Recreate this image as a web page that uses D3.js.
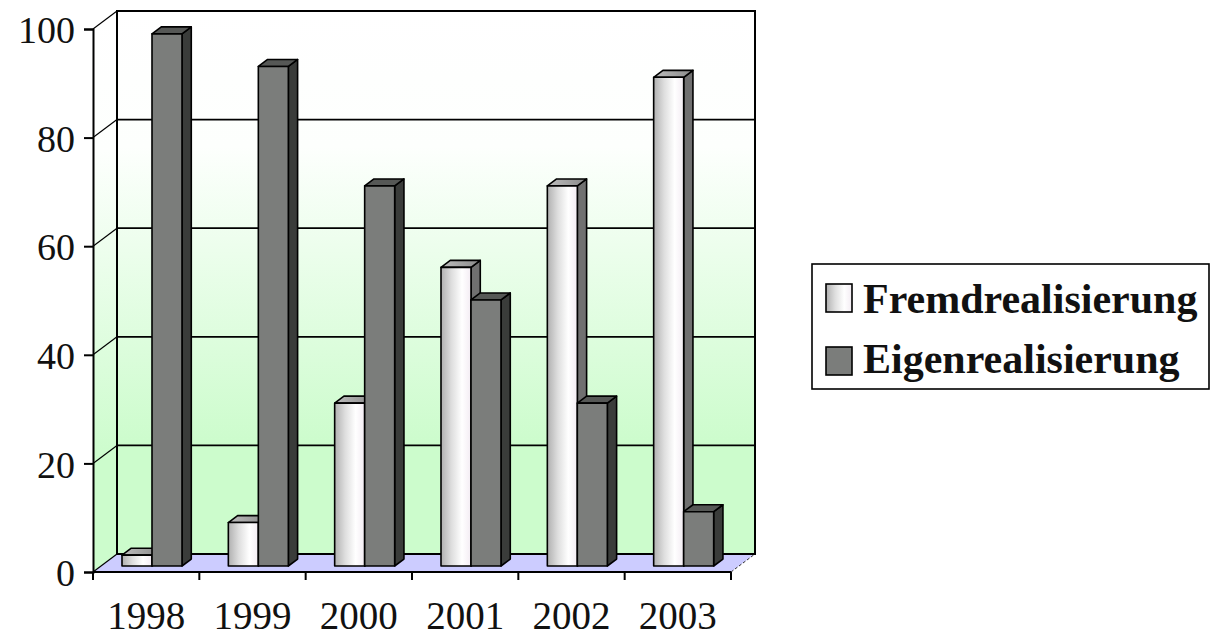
<!DOCTYPE html>
<html>
<head>
<meta charset="utf-8">
<script src="https://cdn.jsdelivr.net/npm/d3@7/dist/d3.min.js"></script>
<style>
  html, body { margin: 0; padding: 0; background: #fff; }
  svg { display: block; }
  text { font-family: "Liberation Serif", "Times New Roman", serif; fill: #111; }
</style>
</head>
<body>
<svg id="chart" width="1214" height="637"></svg>
<script>
// Anteil Fremd- vs. Eigenrealisierung (in %)
const years = ["1998", "1999", "2000", "2001", "2002", "2003"];
const seriesNames = ["Fremdrealisierung", "Eigenrealisierung"];
const fremd = [2, 8, 30, 55, 70, 90];
const eigen = [98, 92, 70, 49, 30, 10];
const yTicks = [0, 20, 40, 60, 80, 100];

const svg = d3.select("#chart");
const defs = svg.append("defs");

// walls: white top fading to pale green towards the floor
const wallGrad = defs.append("linearGradient").attr("id", "wallGrad")
  .attr("x1", 0).attr("y1", 0).attr("x2", 0).attr("y2", 1);
[[0, "#ffffff"], [0.25, "#fdfffd"], [0.8, "#ccfccc"], [1, "#ccfccc"]]
  .forEach(([o, c]) => wallGrad.append("stop").attr("offset", o).attr("stop-color", c));

// light bar front: metallic sheen from left to right
const lightGrad = defs.append("linearGradient").attr("id", "lightGrad")
  .attr("x1", 0).attr("y1", 0).attr("x2", 1).attr("y2", 0);
[[0, "#b0b0b0"], [0.35, "#dedede"], [0.7, "#ffffff"], [1, "#f3ecf3"]]
  .forEach(([o, c]) => lightGrad.append("stop").attr("offset", o).attr("stop-color", c));

const lightTopGrad = defs.append("linearGradient").attr("id", "lightTopGrad")
  .attr("x1", 0).attr("y1", 0).attr("x2", 1).attr("y2", 0);
[[0, "#bdbdbd"], [1, "#8a8a8a"]]
  .forEach(([o, c]) => lightTopGrad.append("stop").attr("offset", o).attr("stop-color", c));

// scales on the front plane of the floor
const x = d3.scaleBand().domain(years).range([93, 731]).padding(0);
const y = d3.scaleLinear().domain([0, 100]).range([572, 29]);
const inner = d3.scaleBand().domain(seriesNames).range([21, 81]).padding(0);

// oblique depth projection
const DX = 24, DY = -18;
const px = d => DX * d, py = d => DY * d;

const x0 = x.range()[0], x1 = x.range()[1];
const yBot = y(0), yTop = y(100);

// back wall
svg.append("rect")
  .attr("x", x0 + px(1)).attr("y", yTop + py(1))
  .attr("width", x1 - x0).attr("height", yBot - yTop)
  .attr("fill", "url(#wallGrad)");

// left wall
svg.append("polygon")
  .attr("points", [[x0, yTop], [x0 + px(1), yTop + py(1)], [x0 + px(1), yBot + py(1)], [x0, yBot]].join(" "))
  .attr("fill", "url(#wallGrad)");

// floor
svg.append("polygon")
  .attr("points", [[x0, yBot], [x1, yBot], [x1 + px(1), yBot + py(1)], [x0 + px(1), yBot + py(1)]].join(" "))
  .attr("fill", "#ccccff");
svg.append("line")
  .attr("x1", x1).attr("y1", yBot).attr("x2", x1 + px(1)).attr("y2", yBot + py(1))
  .attr("stroke", "#333").attr("stroke-width", 1).attr("stroke-dasharray", "3,2");

// gridlines on back wall and left wall
const grid = svg.append("g").attr("stroke", "#000").attr("fill", "none");
grid.selectAll("line.back").data(yTicks).join("line").attr("class", "back")
  .attr("x1", x0 + px(1)).attr("x2", x1 + px(1))
  .attr("y1", d => y(d) + py(1)).attr("y2", d => y(d) + py(1))
  .attr("stroke-width", 1.8);
grid.selectAll("line.side").data(yTicks).join("line").attr("class", "side")
  .attr("x1", x0).attr("x2", x0 + px(1))
  .attr("y1", d => y(d)).attr("y2", d => y(d) + py(1))
  .attr("stroke-width", 1.2);
// back wall outline
grid.append("rect")
  .attr("x", x0 + px(1)).attr("y", yTop + py(1))
  .attr("width", x1 - x0).attr("height", yBot - yTop)
  .attr("stroke-width", 2);

// bars
const d0 = 1 / 3, d1 = 0.72;
const sdx = px(d1) - px(d0), sdy = py(d1) - py(d0);
const barData = [];
years.forEach((yr, i) => {
  barData.push({ yr, s: seriesNames[0], v: fremd[i] });
  barData.push({ yr, s: seriesNames[1], v: eigen[i] });
});
const styles = {
  "Fremdrealisierung": { front: "url(#lightGrad)", side: "#707070", top: "url(#lightTopGrad)" },
  "Eigenrealisierung": { front: "#7b7d7b", side: "#3a3c3a", top: "#565856" }
};
const bars = svg.append("g").attr("stroke", "#000").attr("stroke-width", 1.6).attr("stroke-linejoin", "round");
barData.forEach(b => {
  const bx = x(b.yr) + inner(b.s) + px(d0);
  const w = inner.bandwidth();
  const yt = y(b.v) + py(d0);
  const yb = y(0) + py(d0);
  const st = styles[b.s];
  const g = bars.append("g");
  g.append("polygon")
    .attr("points", [[bx + w, yt], [bx + w + sdx, yt + sdy], [bx + w + sdx, yb + sdy], [bx + w, yb]].join(" "))
    .attr("fill", st.side);
  g.append("polygon")
    .attr("points", [[bx, yt], [bx + sdx, yt + sdy], [bx + w + sdx, yt + sdy], [bx + w, yt]].join(" "))
    .attr("fill", st.top);
  g.append("rect")
    .attr("x", bx).attr("y", yt).attr("width", w).attr("height", yb - yt)
    .attr("fill", st.front);
});

// y axis on the front-left edge
const yAxis = svg.append("g").attr("transform", `translate(${x0},0)`)
  .call(d3.axisLeft(y).tickValues(yTicks).tickSize(9).tickPadding(9).tickFormat(d3.format("d")));
yAxis.select(".domain").attr("stroke", "#000").attr("stroke-width", 2);
yAxis.selectAll(".tick line").attr("stroke", "#000").attr("stroke-width", 2);
yAxis.selectAll(".tick text").attr("font-size", 38).attr("dy", "0.36em")
  .style("font-family", "'Liberation Serif', serif").attr("fill", "#111");

// x axis: labels centred in each band, ticks at band boundaries
const xAxis = svg.append("g").attr("transform", `translate(0,${yBot})`)
  .call(d3.axisBottom(x).tickSize(0).tickPadding(29));
xAxis.select(".domain").remove();
xAxis.selectAll(".tick text").attr("font-size", 39)
  .style("font-family", "'Liberation Serif', serif").attr("fill", "#111");
svg.append("line").attr("x1", x0).attr("x2", x1).attr("y1", yBot).attr("y2", yBot)
  .attr("stroke", "#000").attr("stroke-width", 2);
const bounds = years.map(d => x(d)).concat([x1]);
svg.append("g").selectAll("line").data(bounds).join("line")
  .attr("x1", d => d).attr("x2", d => d).attr("y1", yBot).attr("y2", yBot + 8)
  .attr("stroke", "#000").attr("stroke-width", 2);

// legend
const legend = svg.append("g");
legend.append("rect").attr("x", 812).attr("y", 264).attr("width", 397).attr("height", 125)
  .attr("fill", "#fff").attr("stroke", "#000").attr("stroke-width", 1.6);
const legendFill = ["url(#lightGrad)", "#7b7d7b"];
seriesNames.forEach((name, i) => {
  legend.append("rect").attr("x", 826).attr("y", 284 + i * 63).attr("width", 26).attr("height", 28)
    .attr("fill", legendFill[i]).attr("stroke", "#000").attr("stroke-width", 1.6);
  legend.append("text").attr("x", 863).attr("y", 313 + i * 60)
    .attr("font-size", 42).attr("font-weight", "bold").text(name);
});
</script>
</body>
</html>
